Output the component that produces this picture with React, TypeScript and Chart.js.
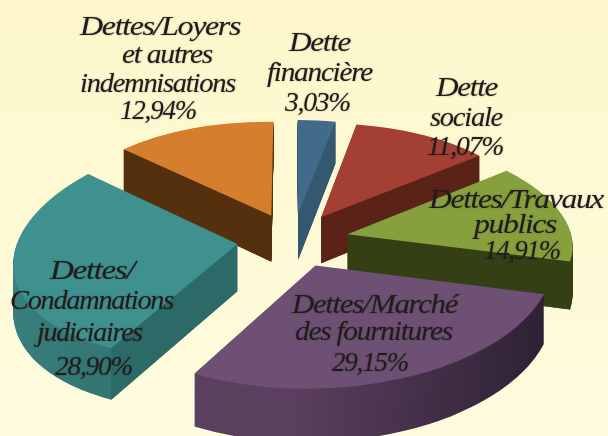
import React, { useEffect, useRef } from "react";
import { Chart, registerables } from "chart.js";

Chart.register(...registerables);

const categories = ["Dette financière", "Dette sociale", "Dettes/Travaux publics", "Dettes/Marché des fournitures", "Dettes/Condamnations judiciaires", "Dettes/Loyers et autres indemnisations"];
const values = [3.03, 11.07, 14.91, 29.15, 28.90, 12.94];
const labelLines = [
  ["Dette", "financière"],
  ["Dette", "sociale"],
  ["Dettes/Travaux", "publics"],
  ["Dettes/Marché", "des fournitures"],
  ["Dettes/", "Condamnations", "judiciaires"],
  ["Dettes/Loyers", "et autres", "indemnisations"],
];
const topColors = ["#426a8a", "#a33f33", "#86a03e", "#6d5073", "#3f9190", "#d57e2e"];
const cutColors = ["#34596e", "#5b2218", "#353f16", "#2f2133", "#2c6a68", "#55300f"];
const rimLeft = ["#34596e", "#5b2218", "#353f16", "#5b3f5e", "#3f8a88", "#55300f"];
const rimRight = ["#34596e", "#5b2218", "#353f16", "#2d2133", "#337674", "#55300f"];
const paintOrder = [5, 0, 1, 2, 4, 3];
const labelBaselines = [
  [51, 81, 111],
  [96, 126, 155],
  [208, 233, 259],
  [313, 340, 371],
  [279, 309, 341, 375],
  [35, 63, 92, 119],
];
const labelLefts = [
  [289, 267, 285],
  [436, 430, 427],
  [429, 474, 484],
  [292, 295, 332],
  [50, 10, 37, 55],
  [80, 122, 80, 120],
];
const labelWidths = [
  [61, 105, 65],
  [61, 72, 76],
  [174, 82, 76],
  [165, 157, 76],
  [84, 163, 105, 77],
  [160, 90, 155, 76],
];

const view = { cx: 293, cy: 240, rx: 224, ry: 108, depth: 47, k: 0.1, explode: 0.25 };

function project(u: number, v: number, z: number) {
  const w = 1 / (1 - view.k * v);
  return { x: view.cx + view.rx * u * w, y: view.cy + (view.ry * v + view.depth * z) * w };
}

function solve(S: any[], D: any[]) {
  const s1x = S[1].x - S[0].x, s1y = S[1].y - S[0].y, s2x = S[2].x - S[0].x, s2y = S[2].y - S[0].y;
  const d1x = D[1].x - D[0].x, d1y = D[1].y - D[0].y, d2x = D[2].x - D[0].x, d2y = D[2].y - D[0].y;
  const det = s1x * s2y - s2x * s1y;
  const a = (d1x * s2y - d2x * s1y) / det;
  const c = (d2x * s1x - d1x * s2x) / det;
  const b = (d1y * s2y - d2y * s1y) / det;
  const d = (d2y * s1x - d1y * s2x) / det;
  return { a, b, c, d, e: D[0].x - a * S[0].x - c * S[0].y, f: D[0].y - b * S[0].x - d * S[0].y };
}

const pie3d = {
  id: "pie3d",
  beforeDatasetDraw(chart: any) {
    const ctx = chart.ctx;
    const arcs = chart.getDatasetMeta(0).data;
    const drawArc = (arc: any, i: number, z: number, fill: any) => {
      const a0 = arc.startAngle, a1 = arc.endAngle, m = (a0 + a1) / 2, R = arc.outerRadius;
      const ex = view.explode * Math.cos(m), ey = view.explode * Math.sin(m);
      const S = [
        { x: arc.x, y: arc.y },
        { x: arc.x + R * Math.cos(a0), y: arc.y + R * Math.sin(a0) },
        { x: arc.x + R * Math.cos(a1), y: arc.y + R * Math.sin(a1) },
      ];
      const D = [
        project(ex, ey, z),
        project(ex + Math.cos(a0), ey + Math.sin(a0), z),
        project(ex + Math.cos(a1), ey + Math.sin(a1), z),
      ];
      const t = solve(S, D);
      ctx.save();
      ctx.setTransform(t.a, t.b, t.c, t.d, t.e, t.f);
      const orig = arc.options;
      const o = Object.create(orig);
      if (typeof fill === "function") {
        o.backgroundColor = fill(t);
      } else {
        o.backgroundColor = fill;
      }
      arc.options = o;
      arc.draw(ctx);
      arc.options = orig;
      ctx.restore();
      return D;
    };
    paintOrder.forEach((i) => {
      const arc = arcs[i];
      const a0 = arc.startAngle, a1 = arc.endAngle, m = (a0 + a1) / 2;
      const ex = view.explode * Math.cos(m), ey = view.explode * Math.sin(m);
      const steps = 60;
      const rimFill = (t: any) => {
        const det = t.a * t.d - t.b * t.c;
        const inv = (x: number, y: number) => ({
          x: (t.d * (x - t.e) - t.c * (y - t.f)) / det,
          y: (-t.b * (x - t.e) + t.a * (y - t.f)) / det,
        });
        const ref = project(ex + Math.cos(m), ey + Math.sin(m), 0);
        const p = inv(ref.x - 120, ref.y), q = inv(ref.x + 130, ref.y);
        const g = ctx.createLinearGradient(p.x, p.y, q.x, q.y);
        g.addColorStop(0, rimLeft[i]);
        g.addColorStop(1, rimRight[i]);
        return g;
      };
      for (let s = steps; s > 0; s--) drawArc(arc, i, s / steps, rimFill);
      const apex = (z: number) => project(ex, ey, z);
      const outer = (a: number, z: number) => project(ex + Math.cos(a), ey + Math.sin(a), z);
      const midTop = outer(m, 0);
      [a0, a1].forEach((a) => {
        const A = apex(0), P = outer(a, 0);
        const dx = P.x - A.x, dy = P.y - A.y;
        const cross = dx * (midTop.y - A.y) - dy * (midTop.x - A.x);
        const above = dx >= 0 ? cross < 0 : cross > 0;
        if (!above) return;
        const A2 = apex(1), P2 = outer(a, 1);
        ctx.fillStyle = cutColors[i];
        ctx.beginPath();
        ctx.moveTo(A.x, A.y);
        ctx.lineTo(P.x, P.y);
        ctx.lineTo(P2.x, P2.y);
        ctx.lineTo(A2.x, A2.y);
        ctx.closePath();
        ctx.fill();
      });
      drawArc(arc, i, 0, topColors[i]);
    });
    return false;
  },
  afterDraw(chart: any) {
    const ctx = chart.ctx;
    ctx.save();
    ctx.font = 'italic 27px "Liberation Serif"';
    (ctx as any).letterSpacing = "-1.2px";
    ctx.textAlign = "left";
    ctx.textBaseline = "alphabetic";
    ctx.fillStyle = "#211c1b";
    ctx.shadowColor = "rgba(38,33,32,0.5)";
    ctx.shadowBlur = 1.5;
    values.forEach((v, i) => {
      const lines = [...labelLines[i], `${v.toFixed(2).replace(".", ",")}%`];
      lines.forEach((line, j) => {
        const scale = labelWidths[i][j] / ctx.measureText(line).width;
        ctx.save();
        ctx.translate(labelLefts[i][j], labelBaselines[i][j]);
        ctx.scale(scale, 1);
        ctx.fillText(line, 0, 0);
        ctx.restore();
      });
    });
    ctx.restore();
  },
};

export default function App() {
  const ref = useRef<HTMLCanvasElement>(null);
  useEffect(() => {
    document.body.style.margin = "0";
    const chart = new Chart(ref.current as HTMLCanvasElement, {
      type: "pie",
      data: {
        labels: categories,
        datasets: [{ data: values, backgroundColor: topColors, borderWidth: 0 }],
      },
      options: {
        responsive: false,
        animation: false,
        plugins: { legend: { display: false }, tooltip: { enabled: false } },
      },
      plugins: [pie3d],
    } as any);
    return () => chart.destroy();
  }, []);
  return (
    <div style={{ position: "fixed", left: 0, top: 0, width: 608, height: 436, background: "linear-gradient(#fdf7ca, #fffcdf)" }}>
      <canvas ref={ref} width={608} height={436} style={{ display: "block" }} />
    </div>
  );
}
